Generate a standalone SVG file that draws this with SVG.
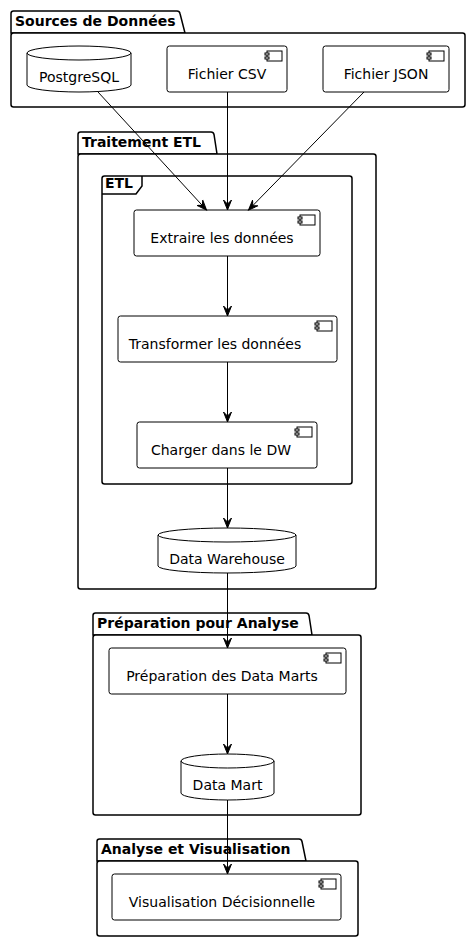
<svg xmlns="http://www.w3.org/2000/svg" width="471" height="942" viewBox="0 0 471 942">
<style>
  .pkg { fill: #ffffff; stroke: #000000; stroke-width: 1.5; }
  .frame { fill: none; stroke: #000000; stroke-width: 1.5; }
  .comp { fill: #ffffff; stroke: #000000; stroke-width: 1; }
  .icon { fill: #ffffff; stroke: #000000; stroke-width: 1; }
  .db { fill: #ffffff; stroke: #000000; stroke-width: 1; }
  .dbl { fill: none; stroke: #000000; stroke-width: 1; }
  .ptitle { font-family: "DejaVu Sans", sans-serif; font-size: 14px; font-weight: bold; fill: #000000; }
  .label { font-family: "DejaVu Sans", sans-serif; font-size: 14px; fill: #000000; text-anchor: middle; }
  .edge { fill: none; stroke: #000000; stroke-width: 1; marker-end: url(#arrow); }
</style>
<defs>
  <marker id="arrow" markerUnits="userSpaceOnUse" markerWidth="12" markerHeight="10" refX="10" refY="5" orient="auto" viewBox="0 0 12 10">
    <path d="M10,5 L0,1 L4,5 L0,9 Z" fill="#000000" stroke="#000000" stroke-width="1"/>
  </marker>
  <g id="cicon">
    <rect x="-20" y="5" width="15" height="10" class="icon"/>
    <rect x="-22" y="7" width="4" height="2" class="icon"/>
    <rect x="-22" y="11" width="4" height="2" class="icon"/>
  </g>
</defs>
<rect width="471" height="942" fill="#ffffff"/>

<!-- Packages -->
<g id="pkg-sources">
  <path class="pkg" d="M11,33 L11,13.5 Q11,11 13.5,11 L177,11 Q179.5,11 180,13.5 L185,33 Z"/>
  <rect class="pkg" x="11" y="33" width="454" height="74" rx="2.5"/>
  <text class="ptitle" x="15" y="26">Sources de Données</text>
</g>
<g id="pkg-etl">
  <path class="pkg" d="M78,154 L78,134.5 Q78,132 80.5,132 L211,132 Q213.5,132 214,134.5 L217,154 Z"/>
  <rect class="pkg" x="78" y="154" width="298" height="435" rx="2.5"/>
  <text class="ptitle" x="82" y="147">Traitement ETL</text>
</g>
<g id="frame-etl">
  <rect class="frame" x="102" y="176" width="250" height="308" rx="2.5"/>
  <path class="frame" d="M102,194 L136,194 L142,186 L142,176"/>
  <text class="ptitle" x="105" y="188">ETL</text>
</g>
<g id="pkg-prep">
  <path class="pkg" d="M93,635 L93,615.5 Q93,613 95.5,613 L306,613 Q308.5,613 309,615.5 L312,635 Z"/>
  <rect class="pkg" x="93" y="635" width="268" height="180" rx="2.5"/>
  <text class="ptitle" x="97" y="628">Préparation pour Analyse</text>
</g>
<g id="pkg-analyse">
  <path class="pkg" d="M97,861 L97,841.5 Q97,839 99.5,839 L299,839 Q301.5,839 302,841.5 L306,861 Z"/>
  <rect class="pkg" x="97" y="861" width="261" height="75" rx="2.5"/>
  <text class="ptitle" x="101" y="854">Analyse et Visualisation</text>
</g>

<!-- Nodes -->
<g id="postgresql">
  <path class="db" d="M27,53 A52,7 0 0 1 131,53 L131,85 A52,7 0 0 1 27,85 Z"/>
  <path class="dbl" d="M27,53 A52,7 0 0 0 131,53"/>
  <text class="label" x="79" y="82">PostgreSQL</text>
</g>
<g id="fichier-csv">
  <rect class="comp" x="167" y="46" width="120" height="46" rx="2.5"/>
  <use href="#cicon" x="287" y="46"/>
  <text class="label" x="227" y="79">Fichier CSV</text>
</g>
<g id="fichier-json">
  <rect class="comp" x="323" y="46" width="126" height="46" rx="2.5"/>
  <use href="#cicon" x="449" y="46"/>
  <text class="label" x="386" y="79">Fichier JSON</text>
</g>
<g id="extraire">
  <rect class="comp" x="134" y="210" width="186" height="46" rx="2.5"/>
  <use href="#cicon" x="320" y="210"/>
  <text class="label" x="222" y="243">Extraire les données</text>
</g>
<g id="transformer">
  <rect class="comp" x="118" y="316" width="219" height="46" rx="2.5"/>
  <use href="#cicon" x="337" y="316"/>
  <text class="label" x="215" y="349">Transformer les données</text>
</g>
<g id="charger">
  <rect class="comp" x="137" y="422" width="180" height="46" rx="2.5"/>
  <use href="#cicon" x="317" y="422"/>
  <text class="label" x="221" y="455">Charger dans le DW</text>
</g>
<g id="data-warehouse">
  <path class="db" d="M158,535 A69,7 0 0 1 296,535 L296,566 A69,7 0 0 1 158,566 Z"/>
  <path class="dbl" d="M158,535 A69,7 0 0 0 296,535"/>
  <text class="label" x="227" y="564">Data Warehouse</text>
</g>
<g id="preparation-dm">
  <rect class="comp" x="109" y="648" width="237" height="46" rx="2.5"/>
  <use href="#cicon" x="346" y="648"/>
  <text class="label" x="222" y="681">Préparation des Data Marts</text>
</g>
<g id="data-mart">
  <path class="db" d="M181,761 A46.5,7 0 0 1 274,761 L274,793 A46.5,7 0 0 1 181,793 Z"/>
  <path class="dbl" d="M181,761 A46.5,7 0 0 0 274,761"/>
  <text class="label" x="227.5" y="790">Data Mart</text>
</g>
<g id="visualisation">
  <rect class="comp" x="112" y="874" width="229" height="46" rx="2.5"/>
  <use href="#cicon" x="341" y="874"/>
  <text class="label" x="222" y="907">Visualisation Décisionnelle</text>
</g>

<!-- Connectors -->
<g id="connectors">
  <path class="edge" d="M98,92 L206.5,210"/>
  <path class="edge" d="M227.5,92 L227.5,210"/>
  <path class="edge" d="M364,92 L248.5,210"/>
  <path class="edge" d="M227.5,256 L227.5,316"/>
  <path class="edge" d="M227.5,362 L227.5,422"/>
  <path class="edge" d="M227.5,468 L227.5,528"/>
  <path class="edge" d="M227.5,573 L227.5,648"/>
  <path class="edge" d="M227.5,694 L227.5,754"/>
  <path class="edge" d="M227.5,800 L227.5,874"/>
</g>
</svg>
